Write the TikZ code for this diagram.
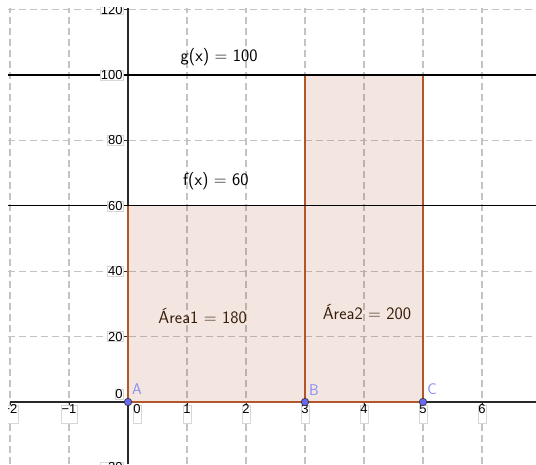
\documentclass[tikz,border=0pt]{standalone}
\usepackage{fontspec}
\newfontfamily\tickfont{Liberation Sans}
\definecolor{gridc}{RGB}{195,195,195}
\definecolor{areac}{RGB}{153,51,0}
\definecolor{edgec}{RGB}{178,85,40}
\definecolor{ptc}{RGB}{105,105,245}
\definecolor{ptlab}{RGB}{140,140,240}
\definecolor{txtc}{RGB}{55,28,8}
\definecolor{axc}{RGB}{40,40,40}
\definecolor{boxc}{RGB}{215,215,215}
\tikzset{
  gridline/.style={gridc, line width=1.2pt, dash pattern=on 7pt off 4pt},
  axisline/.style={axc, line width=1.1pt},
  funcline/.style={black, line width=1.2pt},
  edgeline/.style={edgec, line width=1.1pt},
  areafill/.style={fill=areac, fill opacity=0.12},
  xtick/.style={font=\tickfont\fontsize{13}{14}\selectfont, fill=white, draw=boxc, line width=0.5pt,
     inner xsep=0.6pt, inner ysep=0pt, text height=9pt, text depth=9pt, anchor=north},
  ytick/.style={font=\tickfont\fontsize{13}{14}\selectfont, fill=white, draw=boxc, line width=0.5pt,
     inner xsep=0.6pt, inner ysep=0.5pt, text height=9pt, text depth=0pt, anchor=east},
  ptnode/.style={circle, fill=ptc, draw=black!80, line width=0.7pt, minimum size=7.5pt, inner sep=0pt},
  ptlabel/.style={ptlab, font=\sffamily\fontsize{15.5}{17}\selectfont},
  eqlabel/.style={font=\sffamily\fontsize{17.5}{20}\selectfont, inner sep=0pt},
}
\begin{document}
\begin{tikzpicture}[x=59pt,y=3.27pt]
\useasboundingbox (-2.1695,-18.96) rectangle (6.9153,122.94);
\begin{scope}
\clip (-2.03,-18.96) rectangle (6.9153,120.5);
% grid
\foreach \x in {-2,-1,1,2,3,4,5,6}
  \draw[gridline] (\x,-18.96) -- (\x,120.5);
\foreach \y in {20,40,80,120}
  \draw[gridline] (-2.03,\y) -- (6.92,\y);
% axes
\coordinate (xl) at (-2,0);
\coordinate (xr) at (6.92,0);
\coordinate (yb) at (0,-18.96);
\coordinate (yt) at (0,120.5);
\draw[axisline] (xl) -- (xr);
\draw[axisline] (yb) -- (yt);
% ticks
\foreach \x in {-2,-1,1,2,3,4,5,6}
  \draw[axc, line width=0.9pt] (\x,0) -- ++(0,-4pt);
\foreach \y in {-20,20,40,60,80,100,120}
  \draw[axc, line width=0.9pt] (0,\y) -- ++(-4pt,0);
% areas
\fill[areafill] (0,0) rectangle (3,60);
\fill[areafill] (3,0) rectangle (5,100);
\coordinate (p060) at (0,60);
\coordinate (p3100) at (3,100);
\coordinate (p5100) at (5,100);
\draw[edgeline] (0,0) -- (p060);
\draw[edgeline] (3,0) -- (p3100);
\draw[edgeline] (5,0) -- (p5100);
\draw[edgeline] (0,0) -- (5,0);
% functions
\coordinate (fl) at (-2.03,60);
\coordinate (fr) at (6.92,60);
\coordinate (gl) at (-2.03,100);
\coordinate (gr) at (6.92,100);
\draw[funcline] (fl) -- (fr);
\draw[funcline] (gl) -- (gr);
% tick labels
\node[xtick] (xlm2) at ([yshift=-2.5pt]-2,0) {\textminus2};
\node[xtick] (xlm1) at ([yshift=-2.5pt]-1,0) {\textminus1};
\node[xtick] (xl0) at ([xshift=9pt,yshift=-2.5pt]0,0) {0};
\foreach \x in {1,...,6}
  \node[xtick] (xl\x) at ([yshift=-2.5pt]\x,0) {\x};
\foreach \y in {20,40,60,80,100,120}
  \node[ytick] (yl\y) at ([xshift=-4.5pt]0,\y) {\y};
\node[ytick] (yl0) at ([xshift=-4.5pt,yshift=8pt]0,0) {0};
\node[ytick] (ylm20) at ([xshift=-4.5pt]0,-20) {\textminus20};
\end{scope}
% labels
\node[eqlabel] (glab) at (1.545,105.6) {g(x) = 100};
\node[eqlabel] (flab) at (1.49,67.4) {f(x) = 60};
\node[eqlabel, txtc] (a1) at (1.265,26.3) {Área1 = 180};
\node[eqlabel, txtc] (a2) at (4.05,27.4) {Área2 = 200};
% points
\node[ptnode] (A) at (0,0) {};
\node[ptnode] (B) at (3,0) {};
\node[ptnode] (C) at (5,0) {};
\node[ptlabel] (Al) at ([xshift=9pt,yshift=13pt]0,0) {A};
\node[ptlabel] (Bl) at ([xshift=9pt,yshift=11.5pt]3,0) {B};
\node[ptlabel] (Cl) at ([xshift=9pt,yshift=13pt]5,0) {C};
\end{tikzpicture}
\end{document}
